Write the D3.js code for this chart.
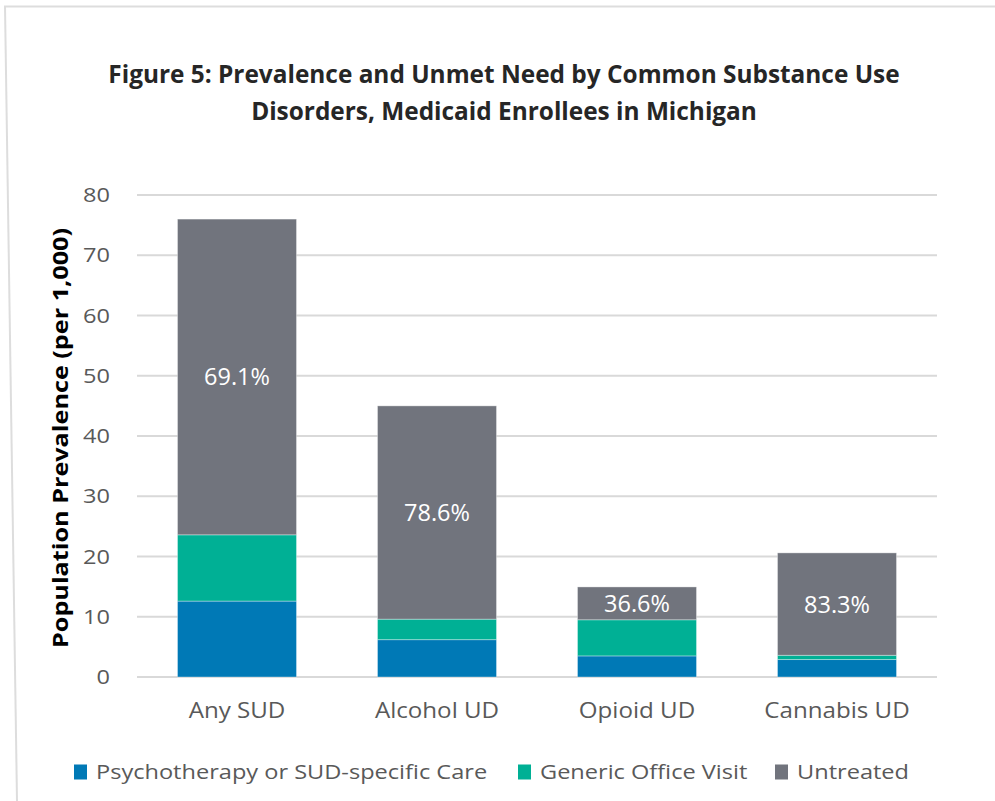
<!DOCTYPE html>
<html><head><meta charset="utf-8">
<script src="https://cdn.jsdelivr.net/npm/d3@7"></script>
<style>body{margin:0;background:#fff}svg{display:block}</style>
</head><body><svg id="c" width="995" height="801"></svg>
<script>
const categories = ["Any SUD", "Alcohol UD", "Opioid UD", "Cannabis UD"];
const seriesNames = ["Psychotherapy or SUD-specific Care", "Generic Office Visit", "Untreated"];
const psychotherapy = [12.6, 6.2, 3.5, 2.9];
const genericVisit = [11.0, 3.4, 6.0, 0.7];
const untreated = [52.4, 35.4, 5.45, 17.0];
const untreatedLabels = ["69.1%", "78.6%", "36.6%", "83.3%"];
const yTicks = [0, 10, 20, 30, 40, 50, 60, 70, 80];
const colors = ["#0079B6", "#00B095", "#71747D"];

const svg = d3.select("#c");
// frame (top and slightly slanted left edge)
svg.append("line").attr("x1", 4).attr("y1", 6.5).attr("x2", 995).attr("y2", 6.5)
  .attr("stroke", "#DDDDDD").attr("stroke-width", 2);
svg.append("line").attr("x1", 5).attr("y1", 6).attr("x2", 17).attr("y2", 801)
  .attr("stroke", "#DDDDDD").attr("stroke-width", 2);

const m = {l: 137, r: 937, t: 195, b: 677};
const x = d3.scaleBand().domain(categories).range([m.l, m.r]).paddingInner(0.405).paddingOuter(0.2025);
const y = d3.scaleLinear().domain([0, 80]).range([m.b, m.t]);

const font = "'Open Sans', sans-serif";
const sx = 1.15;
// grid
svg.append("g").selectAll("line").data(yTicks).join("line")
  .attr("x1", m.l).attr("x2", m.r).attr("y1", d => y(d)).attr("y2", d => y(d))
  .attr("stroke", "#D9D9D9").attr("stroke-width", 2);

const yAxis = svg.append("g").attr("transform", `translate(${m.l},0)`)
  .call(d3.axisLeft(y).tickValues(yTicks).tickSize(0));
yAxis.select(".domain").remove();
yAxis.selectAll("text").attr("x", 0).attr("transform", `translate(-27,0) scale(${sx},1)`)
  .attr("font-family", font).attr("font-size", 20.5).attr("fill", "#595959");

const xAxis = svg.append("g").attr("transform", `translate(0,${m.b})`)
  .call(d3.axisBottom(x).tickSize(0).tickPadding(26));
xAxis.select(".domain").remove();
xAxis.selectAll("text").attr("transform", `scale(${sx},1)`)
  .attr("font-family", font).attr("font-size", 21).attr("fill", "#595959");

const rows = categories.map((c, i) => ({cat: c, s0: psychotherapy[i], s1: genericVisit[i], s2: untreated[i]}));
const stack = d3.stack().keys(["s0", "s1", "s2"])(rows);
svg.append("g").selectAll("g").data(stack).join("g").attr("fill", (d, i) => colors[i])
  .selectAll("rect").data(d => d).join("rect")
  .attr("x", d => x(d.data.cat)).attr("width", x.bandwidth())
  .attr("y", d => y(d[1])).attr("height", d => y(d[0]) - y(d[1]))
  .attr("stroke", "rgba(255,255,255,0.35)").attr("stroke-width", 1);

svg.append("g").selectAll("text").data(stack[2]).join("text")
  .attr("x", d => x(d.data.cat) + x.bandwidth() / 2)
  .attr("y", d => (y(d[0]) + y(d[1])) / 2)
  .attr("dy", "0.36em").attr("text-anchor", "middle")
  .attr("font-family", font).attr("font-size", 23.5).attr("fill", "#fff")
  .text((d, i) => untreatedLabels[i]);

// title
const title = svg.append("text").attr("text-anchor", "middle").attr("font-family", font)
  .attr("font-weight", 700).attr("font-size", 24.4).attr("fill", "#262626");
title.append("tspan").attr("x", 504).attr("y", 83).text("Figure 5: Prevalence and Unmet Need by Common Substance Use");
title.append("tspan").attr("x", 504).attr("y", 120).text("Disorders, Medicaid Enrollees in Michigan");

svg.append("text").attr("transform", `translate(68,438) rotate(-90)`)
  .attr("text-anchor", "middle").attr("font-family", font).attr("font-weight", 700)
  .attr("font-size", 21).attr("fill", "#000")
  .attr("textLength", 420).attr("lengthAdjust", "spacingAndGlyphs")
  .text("Population  Prevalence  (per 1,000)");

// legend
const legX = [74, 518, 775];
const leg = svg.append("g").selectAll("g").data(seriesNames).join("g")
  .attr("transform", (d, i) => `translate(${legX[i]},772)`);
leg.append("rect").attr("x", 0).attr("y", -7.5).attr("width", 13).attr("height", 15).attr("fill", (d, i) => colors[i]);
leg.append("text").attr("x", 0).attr("dy", "0.35em").attr("transform", `translate(22,0) scale(${sx},1)`)
  .attr("font-family", font).attr("font-size", 20.5).attr("fill", "#595959").text(d => d);
</script></body></html>
